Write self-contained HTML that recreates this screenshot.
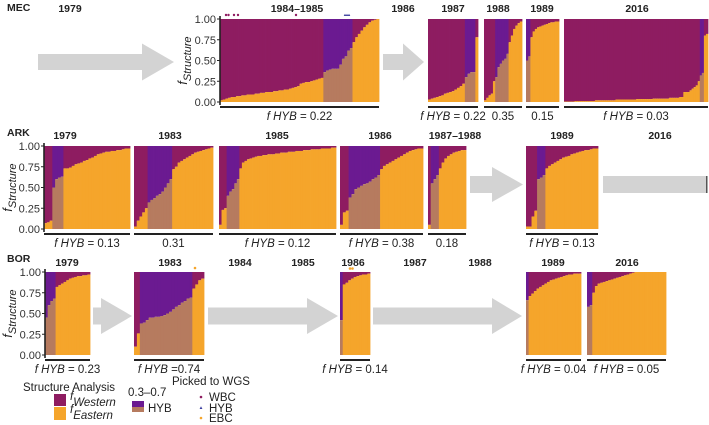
<!DOCTYPE html>
<html><head><meta charset="utf-8">
<style>
html,body{margin:0;padding:0;background:#fff;}
svg{display:block;font-family:"Liberation Sans",Arial,sans-serif;}
</style></head>
<body>
<svg id="fig" width="709" height="425" viewBox="0 0 709 425" xmlns="http://www.w3.org/2000/svg"></svg>
<script>
// ---- data: eastern ancestry fraction per individual, sorted as plotted ----
const mec1984 = [0.02,0.03,0.04,0.05,0.06,0.06,0.07,0.07,0.08,0.08,0.09,0.09,0.09,0.10,0.10,0.11,0.11,0.12,0.12,0.12,0.13,0.13,0.14,0.14,0.15,0.15,0.16,0.17,0.18,0.19,0.22,0.23,0.24,0.24,0.25,0.26,0.27,0.28,0.29,0.36,0.38,0.39,0.40,0.40,0.40,0.45,0.52,0.55,0.62,0.65,0.72,0.78,0.82,0.86,0.90,0.93,0.96,0.98,0.99,1.0];
const mec1987 = [0.03,0.04,0.05,0.06,0.07,0.08,0.10,0.11,0.12,0.13,0.15,0.17,0.19,0.22,0.30,0.34,0.36,0.36,0.78];
const mec1988 = [0.02,0.05,0.08,0.10,0.25,0.30,0.42,0.46,0.50,0.52,0.58,0.72,0.80,0.88,0.92,0.95,0.97];
const mec1989 = [0.50,0.55,0.78,0.85,0.88,0.90,0.91,0.92,0.93,0.94,0.95,0.96,0.96,0.97,0.97];
const mec2016 = [0.005,0.005,0.005,0.005,0.005,0.01,0.01,0.01,0.01,0.01,0.01,0.01,0.01,0.01,0.01,0.02,0.02,0.02,0.02,0.02,0.02,0.02,0.02,0.02,0.02,0.03,0.03,0.03,0.03,0.03,0.03,0.03,0.03,0.03,0.03,0.035,0.035,0.035,0.035,0.035,0.035,0.035,0.035,0.04,0.04,0.04,0.04,0.04,0.04,0.04,0.04,0.05,0.05,0.05,0.05,0.05,0.06,0.06,0.12,0.12,0.12,0.14,0.16,0.18,0.20,0.25,0.32,0.35,0.80,0.82];
const ark1979 = [0.07,0.08,0.10,0.50,0.60,0.62,0.63,0.73,0.73,0.74,0.76,0.78,0.79,0.80,0.82,0.83,0.85,0.86,0.88,0.90,0.91,0.92,0.93,0.93,0.94,0.94,0.95,0.95,0.96,0.97,0.97];
const ark1983 = [0.03,0.10,0.15,0.20,0.25,0.32,0.35,0.37,0.40,0.42,0.45,0.50,0.55,0.60,0.72,0.75,0.80,0.82,0.84,0.86,0.88,0.90,0.92,0.93,0.94,0.95,0.96,0.97,0.98];
const ark1985 = [0.05,0.23,0.25,0.40,0.45,0.48,0.55,0.60,0.73,0.80,0.82,0.84,0.85,0.86,0.87,0.88,0.88,0.89,0.89,0.90,0.90,0.90,0.91,0.91,0.92,0.92,0.92,0.93,0.93,0.93,0.94,0.94,0.94,0.95,0.95,0.95,0.96,0.96,0.96,0.96,0.97,0.97,0.97,0.97,0.98,0.98];
const ark1986 = [0.05,0.20,0.22,0.38,0.42,0.48,0.50,0.52,0.54,0.55,0.57,0.60,0.62,0.65,0.72,0.76,0.78,0.80,0.82,0.84,0.86,0.88,0.90,0.92,0.94,0.95,0.96,0.97,0.97];
const ark1987 = [0.05,0.55,0.60,0.65,0.73,0.80,0.85,0.88,0.90,0.92,0.93,0.94,0.95,0.95];
const ark1989 = [0.03,0.03,0.15,0.22,0.60,0.62,0.65,0.73,0.76,0.78,0.80,0.82,0.84,0.86,0.87,0.88,0.90,0.91,0.92,0.93,0.94,0.95,0.95,0.96,0.97,0.97];
const bor1979 = [0.45,0.60,0.65,0.68,0.82,0.84,0.86,0.88,0.90,0.92,0.93,0.94,0.95,0.95,0.96,0.96,0.97];
const bor1983 = [0.10,0.26,0.38,0.39,0.42,0.45,0.45,0.46,0.46,0.47,0.48,0.50,0.52,0.55,0.58,0.60,0.63,0.65,0.68,0.69,0.80,0.85,0.90,0.92];
const bor1986 = [0.42,0.85,0.87,0.90,0.92,0.94,0.95,0.96,0.97,0.97,0.98];
const bor1989 = [0.66,0.71,0.74,0.77,0.80,0.82,0.84,0.86,0.88,0.90,0.91,0.92,0.93,0.94,0.95,0.96,0.97,0.97,0.98,0.98,0.98];
const bor2016 = [0.58,0.60,0.75,0.83,0.86,0.87,0.88,0.89,0.90,0.91,0.92,0.93,0.94,0.95,0.96,0.97,0.98,0.99,1,1,1,1,1,1,1,1,1,1,1,1];
const yTicks = [1.00,0.75,0.50,0.25,0.00];
const yTickLabels = ["1.00","0.75","0.50","0.25","0.00"];
const hybLabels = ["f HYB = 0.22","f HYB = 0.22","0.35","0.15","f HYB = 0.03","f HYB = 0.13","0.31","f HYB = 0.12","f HYB = 0.38","0.18","f HYB = 0.13","f HYB = 0.23","f HYB =0.74","f HYB = 0.14","f HYB = 0.04","f HYB = 0.05"];

const C = {west:"#8E1C61", east:"#F5A52B", hybTop:"#6B1A91", hybBot:"#B67B5F", arrow:"#D3D3D3", ink:"#222"};
const NS = "http://www.w3.org/2000/svg";
const svg = document.getElementById('fig');
function mk(tag, attrs, parent){ const e=document.createElementNS(NS,tag); for(const k in attrs) e.setAttribute(k,attrs[k]); (parent||svg).appendChild(e); return e; }

const rows = {
  MEC:{top:19, bot:102},
  ARK:{top:146, bot:229},
  BOR:{top:272, bot:355}
};
function yScale(row, v){ const r=rows[row]; return r.top + (1-v)*(r.bot-r.top); }

const panels = [
  {id:"mec-1984-1985", row:"MEC", x0:220, x1:379, data:mec1984, lab:0},
  {id:"mec-1987", row:"MEC", x0:428, x1:478, data:mec1987, lab:1},
  {id:"mec-1988", row:"MEC", x0:484, x1:522, data:mec1988, lab:2},
  {id:"mec-1989", row:"MEC", x0:526, x1:559, data:mec1989, lab:3},
  {id:"mec-2016", row:"MEC", x0:564, x1:708, data:mec2016, lab:4},
  {id:"ark-1979", row:"ARK", x0:44, x1:130, data:ark1979, lab:5},
  {id:"ark-1983", row:"ARK", x0:134, x1:213, data:ark1983, lab:6},
  {id:"ark-1985", row:"ARK", x0:219, x1:336, data:ark1985, lab:7},
  {id:"ark-1986", row:"ARK", x0:340, x1:423, data:ark1986, lab:8},
  {id:"ark-1987-1988", row:"ARK", x0:428, x1:466, data:ark1987, lab:9},
  {id:"ark-1989", row:"ARK", x0:526, x1:598, data:ark1989, lab:10},
  {id:"bor-1979", row:"BOR", x0:45, x1:90, data:bor1979, lab:11},
  {id:"bor-1983", row:"BOR", x0:134, x1:204, data:bor1983, lab:12},
  {id:"bor-1986", row:"BOR", x0:340, x1:370, data:bor1986, lab:13},
  {id:"bor-1989", row:"BOR", x0:526, x1:581, data:bor1989, lab:14},
  {id:"bor-2016", row:"BOR", x0:587, x1:666, data:bor2016, lab:15}
];

panels.forEach(p=>{
  const g = mk('g',{});
  
  
  const n = p.data.length, w = (p.x1-p.x0)/n;
  const yT = yScale(p.row,1), yB = yScale(p.row,0);
  p.data.forEach((v,i)=>{
    const hyb = v>=0.3 && v<=0.7;
    const x = p.x0 + i*w, yv = yScale(p.row,v);
    const top = mk('rect',{x:x.toFixed(2), y:yT, width:(w+0.4).toFixed(2), height:Math.max(0,yv-yT).toFixed(2), fill: hyb?C.hybTop:C.west}, g);
    
    
    const bot = mk('rect',{x:x.toFixed(2), y:yv.toFixed(2), width:(w+0.4).toFixed(2), height:Math.max(0,yB-yv).toFixed(2), fill: hyb?C.hybBot:C.east}, g);
    
    
  });
  const ul = mk('rect',{x:p.x0, y:yB+4, width:p.x1-p.x0, height:2, fill:C.ink});
  
  
  const t = mk('text',{x:(p.x0+p.x1)/2, y:yB+18, 'text-anchor':'middle', 'font-size':'11.5', fill:'#222'});
  
  
  const s = hybLabels[p.lab];
  if (s.indexOf('HYB')>=0){
    const rest = s.replace('f HYB','');
    const a = mk('tspan',{'font-style':'italic'},t); a.textContent='f HYB';
    const b = mk('tspan',{},t); b.textContent=rest;
  } else t.textContent = s;
});

// y axes
[["MEC",220,187],["ARK",44,12],["BOR",45,12]].forEach(([row,ax,tx])=>{
  const r=rows[row];
  const l = mk('line',{x1:ax, y1:r.top-3, x2:ax, y2:r.bot+3, stroke:C.ink, 'stroke-width':1.6});
  
  
  yTicks.forEach((v,i)=>{
    const y=yScale(row,v);
    mk('line',{x1:ax-3, y1:y, x2:ax, y2:y, stroke:C.ink, 'stroke-width':1});
    const t=mk('text',{x:ax-4, y:y+4, 'text-anchor':'end', 'font-size':'11', fill:'#333'});
    
    
    t.textContent=yTickLabels[i];
  });
  const cy=(r.top+r.bot)/2;
  const tt=mk('text',{x:tx, y:cy, transform:`rotate(-90 ${tx} ${cy})`, 'text-anchor':'middle', 'font-size':'12.5', 'font-style':'italic', fill:'#222'});
  
  
  const a=mk('tspan',{},tt); a.textContent='f';
  const b=mk('tspan',{dy:'4','font-size':'11'},tt); b.textContent='Structure';
});

// row names and year labels
const rowLabels=[["MEC",7,11],["ARK",7,136],["BOR",7,262]];
rowLabels.forEach(([s,x,y])=>{
  const t=mk('text',{x:x,y:y,'font-size':'10.5','font-weight':'bold',fill:'#222'});
  
  
  t.textContent=s;
});
const years=[["1979",70,12],["1984–1985",297,12],["1986",403,12],["1987",453,12],["1988",498,12],["1989",542,12],["2016",637,12],
["1979",65,139],["1983",170,139],["1985",277,139],["1986",380,139],["1987–1988",455,139],["1989",562,139],["2016",660,139],
["1979",67,266],["1983",170,266],["1984",240,266],["1985",303,266],["1986",353,266],["1987",415,266],["1988",480,266],["1989",553,266],["2016",627,266]];
years.forEach(([s,x,y])=>{
  const t=mk('text',{x:x,y:y,'text-anchor':'middle','font-size':'10.5','font-weight':'bold',fill:'#222'});
  
  
  t.textContent=s;
});

// arrows [x0, headStart, tip, cy, bodyHalf, headHalf]
const arrows=[[38,142,174,62,8,18.5],[383,403,424,62,8,18.5],[470,492,523,184.5,8.5,17.5],[93,101,132,316,8.5,18],[208,307,338,316,8.5,18],[373,492,522,316,8.5,18]];
arrows.forEach(a=>{
  const [x0,h,tip,cy,bh,hh]=a;
  const p=mk('polygon',{points:`${x0},${cy-bh} ${h},${cy-bh} ${h},${cy-hh} ${tip},${cy} ${h},${cy+hh} ${h},${cy+bh} ${x0},${cy+bh}`, fill:C.arrow});
  
  
});
const bar2016=mk('rect',{x:603,y:176,width:104,height:17,fill:C.arrow});


mk('rect',{x:706,y:176,width:1.5,height:17,fill:'#555'});

// WGS markers
[[226,15],[228.5,15],[234,15],[238,15],[296,15]].forEach(([x,y])=>{
  const c=mk('circle',{cx:x,cy:y,r:1.2,fill:C.west});
  
  
});
[[345,15],[347,15],[349,15]].forEach(([x,y])=>{
  const c=mk('polygon',{points:`${x-1.3},${y+1} ${x+1.3},${y+1} ${x},${y-1.3}`,fill:'#3B3FA0'});
  
  
});
[[195,268],[350,268.5],[352.5,268.5]].forEach(([x,y])=>{
  const c=mk('circle',{cx:x,cy:y,r:1.3,fill:C.east});
  
  
});

// legend
const lg=mk('g',{});


function txt(s,x,y,size,attrs,parent){ const t=mk('text',Object.assign({x:x,y:y,'font-size':size,fill:'#222'},attrs||{}),parent||lg); t.textContent=s; return t; }
txt('Structure Analysis',23,391,'11.5');
mk('rect',{x:54,y:394,width:12,height:12,fill:C.west},lg);
mk('rect',{x:54,y:407,width:12,height:13,fill:C.east},lg);
let t1=mk('text',{x:70,y:400,'font-size':'11.5','font-style':'italic',fill:'#222'},lg);
mk('tspan',{},t1).textContent='f'; mk('tspan',{dy:'6'},t1).textContent='Western';
let t2=mk('text',{x:70,y:413,'font-size':'11.5','font-style':'italic',fill:'#222'},lg);
mk('tspan',{},t2).textContent='f'; mk('tspan',{dy:'6'},t2).textContent='Eastern';
txt('0.3–0.7',128,396,'11.5');
mk('rect',{x:132,y:401,width:12,height:6,fill:C.hybTop},lg);
mk('rect',{x:132,y:407,width:12,height:5,fill:C.hybBot},lg);
txt('HYB',148,412,'11.5');
txt('Picked to WGS',172,385,'11.5');
mk('circle',{cx:201,cy:397,r:1.3,fill:C.west},lg);
txt('WBC',209,401,'11.5');
mk('polygon',{points:'199.6,409 202.4,409 201,406.3',fill:'#3B3FA0'},lg);
txt('HYB',209,412,'11.5');
mk('circle',{cx:201,cy:418,r:1.3,fill:C.east},lg);
txt('EBC',209,422,'11.5');
</script>
</body></html>
